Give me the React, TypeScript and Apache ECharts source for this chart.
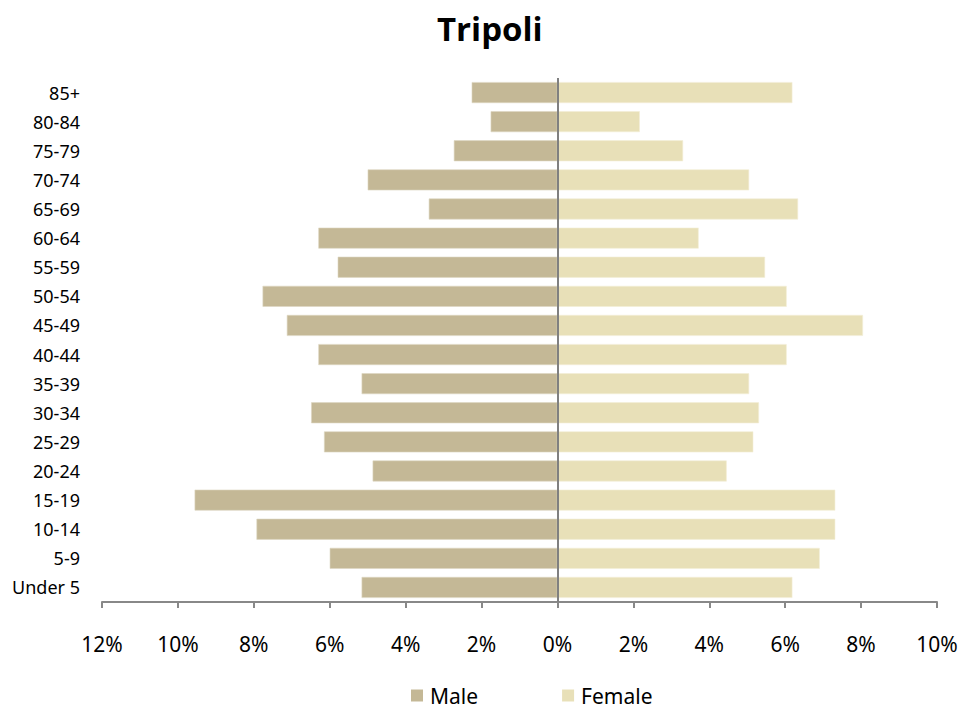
import React, { useEffect, useRef } from "react";
import * as echarts from "echarts";

const categories = ["Under 5", "5-9", "10-14", "15-19", "20-24", "25-29", "30-34", "35-39", "40-44", "45-49", "50-54", "55-59", "60-64", "65-69", "70-74", "75-79", "80-84", "85+"];
const maleValues = [5.16, 6.0, 7.93, 9.56, 4.87, 6.15, 6.49, 5.16, 6.3, 7.13, 7.77, 5.79, 6.3, 3.39, 5.0, 2.73, 1.76, 2.26];
const femaleValues = [6.19, 6.91, 7.32, 7.32, 4.46, 5.16, 5.31, 5.05, 6.04, 8.05, 6.04, 5.47, 3.72, 6.34, 5.05, 3.31, 2.17, 6.19];
const xTicks = [-12, -10, -8, -6, -4, -2, 0, 2, 4, 6, 8, 10];

const FONT = "'Noto Sans', sans-serif";

export default function App() {
  const ref = useRef<HTMLDivElement>(null);
  useEffect(() => {
    if (!ref.current) return;
    document.body.style.margin = "0";
    const chart = echarts.init(ref.current, undefined, { renderer: "svg" });
    chart.setOption({
      animation: false,
      backgroundColor: "#fff",
      title: {
        text: "Tripoli",
        left: 432,
        top: 7,
        textStyle: { fontFamily: "'Open Sans', 'Noto Sans', sans-serif", fontWeight: "bold", fontSize: 33, color: "#000" },
      },
      legend: {
        top: 680,
        left: 406,
        itemWidth: 12,
        itemHeight: 12,
        itemGap: 84,
        icon: "rect",
        itemStyle: { borderWidth: 0 },
        textStyle: { fontFamily: FONT, fontSize: 21, color: "#000", padding: [0, 0, 0, 2] },
        data: ["Male", "Female"],
      },
      grid: { left: 102, right: 42, top: 78, bottom: 111, containLabel: false },
      xAxis: {
        type: "value",
        min: xTicks[0],
        max: xTicks[xTicks.length - 1],
        interval: 2,
        axisLine: { show: true, lineStyle: { color: "#888", width: 2 } },
        axisTick: { show: true, length: 6, lineStyle: { color: "#888", width: 2 } },
        splitLine: { show: false },
        axisLabel: {
          margin: 31,
          fontFamily: FONT,
          fontSize: 21,
          color: "#000",
          formatter: (v: number) => Math.abs(v) + "%",
        },
      },
      yAxis: {
        type: "category",
        data: categories,
        axisLine: { show: false },
        axisTick: { show: false },
        axisLabel: { margin: 22, fontFamily: FONT, fontSize: 18, color: "#000" },
      },
      series: [
        {
          name: "Male",
          type: "bar",
          stack: "total",
          barCategoryGap: "28%",
          data: maleValues.map((v) => -v),
          itemStyle: { color: "#C4B896", borderColor: "#ddd6c2", borderWidth: 0.6 },
          markLine: {
            silent: true,
            symbol: "none",
            label: { show: false },
            lineStyle: { color: "#808080", width: 2, type: "solid" },
            data: [{ xAxis: 0 }],
          },
        },
        {
          name: "Female",
          type: "bar",
          stack: "total",
          barCategoryGap: "28%",
          data: femaleValues,
          itemStyle: { color: "#E8E0B8", borderColor: "#f3eed6", borderWidth: 0.6 },
        },
      ],
    });
    return () => chart.dispose();
  }, []);
  return <div ref={ref} style={{ width: 979, height: 713 }} />;
}
